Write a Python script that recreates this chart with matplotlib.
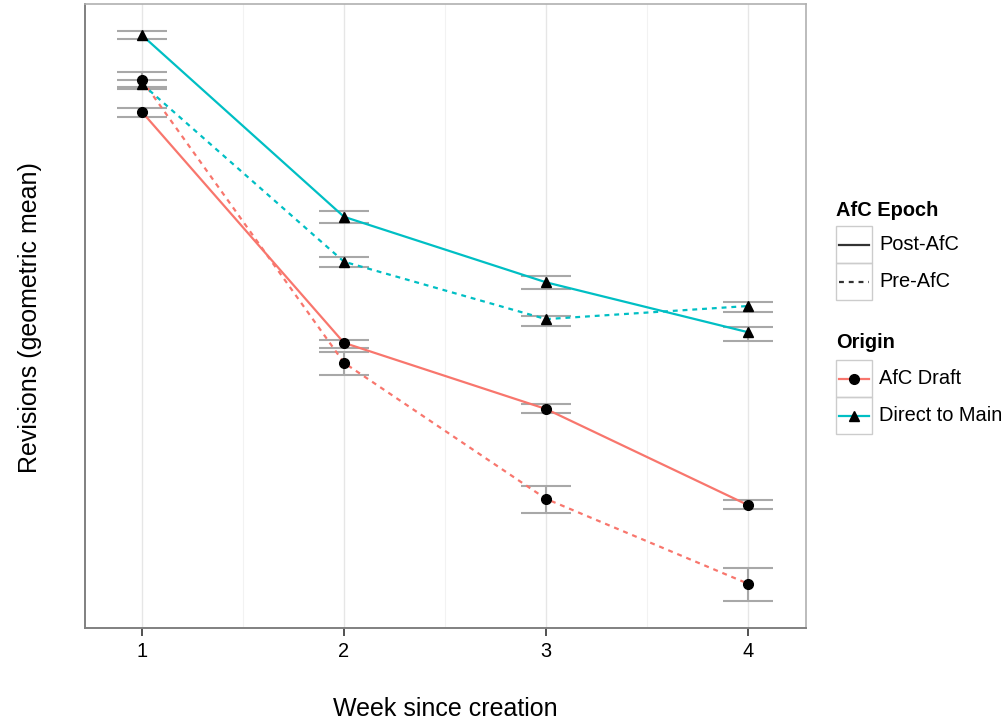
import matplotlib
matplotlib.use("Agg")
import matplotlib.pyplot as plt
from matplotlib.lines import Line2D
from matplotlib.patches import Rectangle

plt.rcParams['font.family'] = ['Liberation Sans', 'DejaVu Sans']

# ---- data (arbitrary units, no y scale shown in reference) ----
weeks = [1, 2, 3, 4]
afc_post = [8.27, 4.57, 3.51, 1.97]
afc_post_lo = [8.19, 4.49, 3.45, 1.91]
afc_post_hi = [8.33, 4.62, 3.59, 2.05]
afc_pre = [8.78, 4.25, 2.07, 0.71]
afc_pre_lo = [8.67, 4.05, 1.84, 0.43]
afc_pre_hi = [8.91, 4.42, 2.28, 0.96]
direct_post = [9.50, 6.59, 5.54, 4.74]
direct_post_lo = [9.44, 6.49, 5.43, 4.60]
direct_post_hi = [9.57, 6.68, 5.64, 4.82]
direct_pre = [8.72, 5.87, 4.95, 5.16]
direct_pre_lo = [8.64, 5.79, 4.84, 5.06]
direct_pre_hi = [8.78, 5.95, 5.00, 5.22]

RED = '#F8766D'
TEAL = '#00BFC4'
ERR = '#a8a8a8'
ERR_W = 0.25

fig = plt.figure(figsize=(10.06, 7.21), dpi=100)
W, H = 1006, 721
ax = fig.add_axes([85 / W, 1 - 628 / H, (806 - 85) / W, (628 - 4) / H])

series = [
    (afc_pre, afc_pre_lo, afc_pre_hi, RED, 'o', (0, (2.2, 2.2))),
    (direct_pre, direct_pre_lo, direct_pre_hi, TEAL, '^', (0, (2.2, 2.2))),
    (afc_post, afc_post_lo, afc_post_hi, RED, 'o', '-'),
    (direct_post, direct_post_lo, direct_post_hi, TEAL, '^', '-'),
]

for vals, lo, hi, col, mk, ls in series:
    ax.vlines(weeks, lo, hi, color=ERR, lw=1.5, zorder=2)
    ax.hlines(lo, [w - ERR_W / 2 for w in weeks], [w + ERR_W / 2 for w in weeks], color=ERR, lw=1.5, zorder=2)
    ax.hlines(hi, [w - ERR_W / 2 for w in weeks], [w + ERR_W / 2 for w in weeks], color=ERR, lw=1.5, zorder=2)
for vals, lo, hi, col, mk, ls in series:
    ax.plot(weeks, vals, color=col, lw=1.6, linestyle=ls, zorder=3)
for vals, lo, hi, col, mk, ls in series:
    ax.plot(weeks, vals, linestyle='none', marker=mk, color='black', markersize=7, zorder=4)

ax.set_xlim(0.718, 4.287)
ax.set_ylim(0, 10)
ax.set_xticks(weeks)
ax.set_xticklabels([str(w) for w in weeks], fontsize=14.4)
ax.set_xticks([1.5, 2.5, 3.5], minor=True)
ax.tick_params(axis='x', which='major', length=6, width=1.2, color='#333333', pad=4)
ax.tick_params(axis='x', which='minor', length=0)
ax.set_yticks([])
ax.grid(True, axis='x', which='major', color='#e6e6e6', lw=1.0, zorder=0)
ax.grid(True, axis='x', which='minor', color='#f2f2f2', lw=0.8, zorder=0)
ax.set_axisbelow(True)
for s in ['top', 'right']:
    ax.spines[s].set_color('#b0b0b0')
    ax.spines[s].set_linewidth(1.2)
for s in ['left', 'bottom']:
    ax.spines[s].set_color('#808080')
    ax.spines[s].set_linewidth(1.4)

fig.text(445 / W, 1 - 709 / H, 'Week since creation', fontsize=18, ha='center', va='center')
fig.text(30 / W, 1 - 318 / H, 'Revisions (geometric mean)', fontsize=18, ha='center', va='center', rotation=90)

# ---- legends drawn manually in a figure-pixel axes ----
lax = fig.add_axes([0, 0, 1, 1], facecolor='none')
lax.set_xlim(0, W)
lax.set_ylim(H, 0)
lax.axis('off')

def key_box(y0, y1):
    lax.add_patch(Rectangle((836, y0), 36, y1 - y0, fill=False, edgecolor='#cccccc', lw=1.0))

FS = 14.4
lax.text(836, 210, 'AfC Epoch', fontsize=FS, fontweight='bold', va='center', ha='left')
key_box(226, 263)
key_box(263, 300)
lax.add_line(Line2D([839, 869], [244.5, 244.5], color='#333333', lw=1.6))
lax.add_line(Line2D([839, 869], [281.5, 281.5], color='#333333', lw=1.6, linestyle=(0, (2.2, 2.2))))
lax.text(879, 244.5, 'Post-AfC', fontsize=FS, va='center', ha='left')
lax.text(879, 281.5, 'Pre-AfC', fontsize=FS, va='center', ha='left')

lax.text(836, 343, 'Origin', fontsize=FS, fontweight='bold', va='center', ha='left')
key_box(360, 397)
key_box(397, 434)
lax.add_line(Line2D([839, 869], [378.5, 378.5], color=RED, lw=1.6))
lax.add_line(Line2D([854], [378.5], color='black', marker='o', markersize=7, linestyle='none'))
lax.add_line(Line2D([839, 869], [415.5, 415.5], color=TEAL, lw=1.6))
lax.add_line(Line2D([854], [415.5], color='black', marker='^', markersize=7, linestyle='none'))
lax.text(879, 378.5, 'AfC Draft', fontsize=FS, va='center', ha='left')
lax.text(879, 415.5, 'Direct to Main', fontsize=FS, va='center', ha='left')

fig.savefig('out.png', dpi=100)
